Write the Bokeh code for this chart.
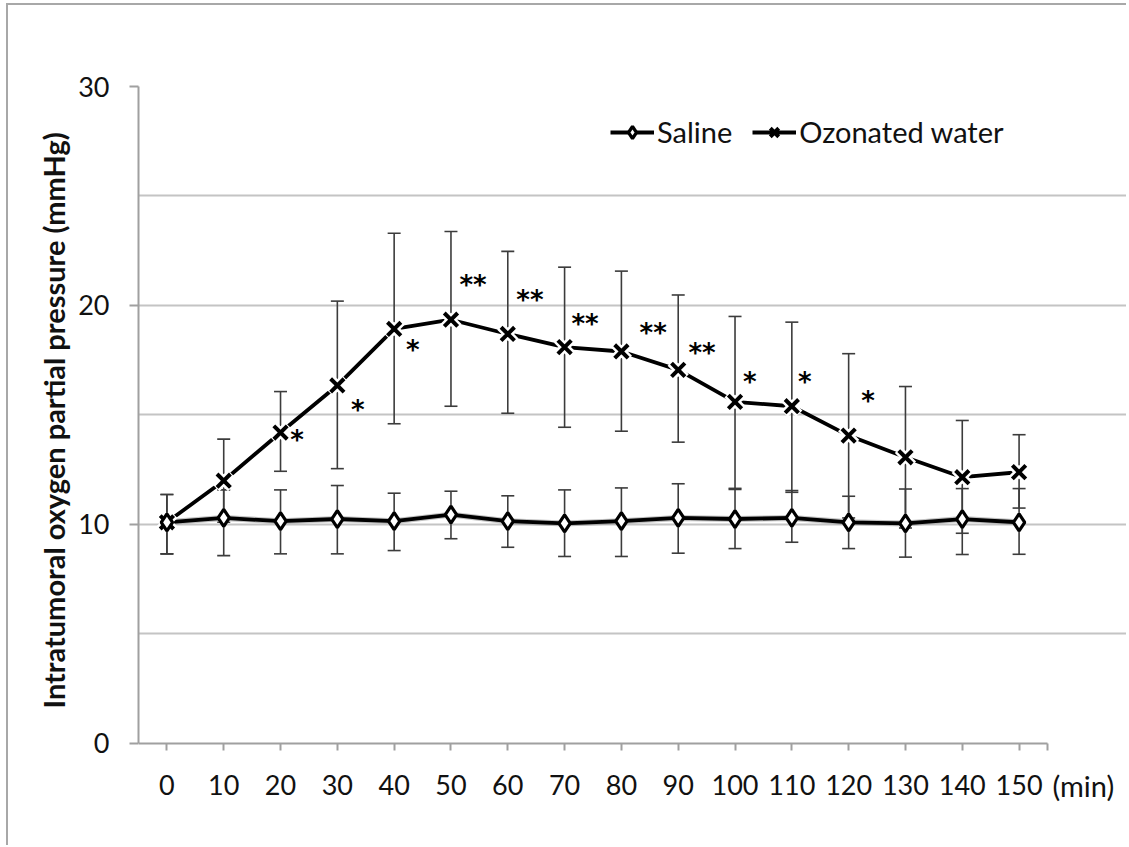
import math
from bokeh.plotting import figure
from bokeh.models import (ColumnDataSource, Range1d, FixedTicker, Whisker, TeeHead,
                          Legend, LegendItem, Label, Title)
from bokeh.core.properties import value
from bokeh.embed import file_html
from bokeh.resources import INLINE

# ---- data ----
time_min = [0, 10, 20, 30, 40, 50, 60, 70, 80, 90, 100, 110, 120, 130, 140, 150]
x_tick_labels = ["0", "10", "20", "30", "40", "50", "60", "70", "80", "90",
                 "100", "110", "120", "130", "140", "150"]
x_unit_label = "(min)"
y_title = "Intratumoral oxygen partial pressure (mmHg)"
y_tick_values = [0, 10, 20, 30]
y_grid_values = [5, 10, 15, 20, 25, 30]

saline_mean = [10.1, 10.3, 10.15, 10.25, 10.15, 10.45, 10.15, 10.05,
               10.15, 10.3, 10.25, 10.3, 10.1, 10.05, 10.25, 10.1]
saline_upper = [11.37, 11.58, 11.58, 11.78, 11.43, 11.52, 11.31, 11.58,
                11.67, 11.86, 11.6, 11.55, 11.29, 11.62, 11.64, 11.64]
saline_lower = [8.66, 8.58, 8.66, 8.66, 8.81, 9.35, 8.96, 8.54,
                8.54, 8.69, 8.9, 9.19, 8.9, 8.51, 8.63, 8.64]

ozone_mean = [10.1, 12.0, 14.2, 16.35, 18.93, 19.35, 18.7, 18.1,
              17.9, 17.06, 15.6, 15.4, 14.06, 13.07, 12.16, 12.39]
ozone_upper = [11.37, 13.9, 16.07, 20.2, 23.3, 23.38, 22.47, 21.75,
               21.57, 20.48, 19.5, 19.24, 17.8, 16.3, 14.75, 14.1]
ozone_lower = [8.66, 10.1, 12.43, 12.55, 14.6, 15.4, 15.08, 14.44,
               14.26, 13.76, 11.65, 11.47, 10.3, 9.84, 9.6, 10.75]

sig_time = [20, 30, 40, 50, 60, 70, 80, 90, 100, 110, 120]
sig_text = ["*", "*", "*", "**", "**", "**", "**", "**", "*", "*", "*"]
sig_level = [13.84, 15.25, 17.95, 20.95, 20.27, 19.16, 18.74, 17.82, 16.5, 16.5, 15.66]
sig_shift = [2.9, 3.6, 3.3, 3.9, 3.9, 3.6, 5.6, 4.2, 2.6, 2.3, 3.4]  # minutes, placement only

FONT = "Lato"
X_LO, X_HI = -5, 155      # axis extent (half a step beyond first/last time)
Y_LO, Y_HI = 0, 30

# frame spans to the right/bottom canvas edges so the "(min)" text is inside it;
# the axes and grid are bounded to the real chart area.
p = figure(width=1120, height=842, output_backend="svg", toolbar_location=None,
           x_range=Range1d(X_LO, 169.26), y_range=Range1d(-4.749, Y_HI),
           min_border_left=130, min_border_right=0, min_border_top=81,
           min_border_bottom=0)
p.margin = (3, 0, 0, 6)
p.styles = {"border-left": "2px solid #a8a8a8", "border-top": "2px solid #a8a8a8"}
p.outline_line_color = None
p.background_fill_color = "white"
p.border_fill_color = "white"

# grids
p.xgrid.visible = False
p.ygrid.ticker = FixedTicker(ticks=y_grid_values)
p.ygrid.bounds = (X_LO, X_HI)
p.ygrid.grid_line_color = "#c4c4c4"
p.ygrid.grid_line_width = 2

# axes
p.xaxis.fixed_location = 0
p.xaxis.bounds = (X_LO, X_HI)
p.xaxis.ticker = FixedTicker(ticks=time_min + [X_HI])
overrides = {t: s for t, s in zip(time_min, x_tick_labels)}
overrides[X_HI] = ""
p.xaxis.major_label_overrides = overrides
p.yaxis.bounds = (Y_LO, Y_HI)
p.yaxis.ticker = FixedTicker(ticks=y_tick_values)
for ax in (p.xaxis[0], p.yaxis[0]):
    ax.axis_line_color = "#a0a0a0"
    ax.axis_line_width = 2
    ax.major_tick_line_color = "#a0a0a0"
    ax.major_tick_line_width = 2
    ax.minor_tick_line_color = None
    ax.major_label_text_font = FONT
    ax.major_label_text_font_size = "27px"
    ax.major_label_text_color = "#111111"
p.xaxis.major_tick_in = 0
p.xaxis.major_tick_out = 7
p.yaxis.major_tick_in = 0
p.yaxis.major_tick_out = 9
p.xaxis.major_label_standoff = 25
p.yaxis.major_label_standoff = 20

# y-axis title as a left-side Title so it can be placed along the real axis span
p.add_layout(Title(text=y_title, align="left", offset=139, standoff=10,
                   text_font=FONT, text_font_style="bold", text_font_size="29px",
                   text_color="#111111"), "left")

src_s = ColumnDataSource(dict(x=time_min, y=saline_mean, up=saline_upper, lo=saline_lower))
src_o = ColumnDataSource(dict(x=time_min, y=ozone_mean, up=ozone_upper, lo=ozone_lower))

for src in (src_s, src_o):
    w = Whisker(source=src, base="x", upper="up", lower="lo", dimension="height",
                line_color="#3c3c3c", line_width=1.6,
                upper_head=TeeHead(size=13, line_color="#3c3c3c", line_width=1.6),
                lower_head=TeeHead(size=13, line_color="#3c3c3c", line_width=1.6))
    w.level = "underlay"
    p.add_layout(w)

# saline halo + line
p.line("x", "y", source=src_s, line_color="#9a9a9a", line_width=6, line_alpha=0.6)
ls = p.line("x", "y", source=src_s, line_color="black", line_width=3.8)
# ozonated
lo_ = p.line("x", "y", source=src_o, line_color="black", line_width=3.8)
p.scatter("x", "y", source=src_o, marker="x", size=21, line_color="white", line_width=9)
mo = p.scatter("x", "y", source=src_o, marker="x", size=19, line_color="black", line_width=4)

ms = p.scatter("x", "y", source=src_s, marker="diamond", size=17,
               fill_color="white", line_color="black", line_width=3.2)

# significance marks
p.text(x=[t + s for t, s in zip(sig_time, sig_shift)], y=sig_level, text=sig_text,
       text_font=value("DejaVu Sans"), text_font_style="bold", text_font_size="26px",
       text_align="center", text_baseline="middle", y_offset=0, text_color="black")

legend = Legend(items=[LegendItem(label="Saline", renderers=[ls, ms]),
                       LegendItem(label="Ozonated water", renderers=[lo_, mo])],
                orientation="horizontal", location=(472, 698),
                glyph_width=44, glyph_height=30, label_standoff=3, spacing=20,
                padding=0, margin=0, border_line_color=None, background_fill_alpha=0,
                label_text_font=FONT, label_text_font_size="29px", label_text_color="#111111")
p.add_layout(legend)

# unit label after the last tick
p.add_layout(Label(x=X_HI, y=-1.9, text=x_unit_label, x_offset=5,
                   text_font=FONT, text_font_size="29px", text_color="#111111",
                   text_baseline="middle", text_align="left"))

open("out.html", "w").write(file_html(p, INLINE))
